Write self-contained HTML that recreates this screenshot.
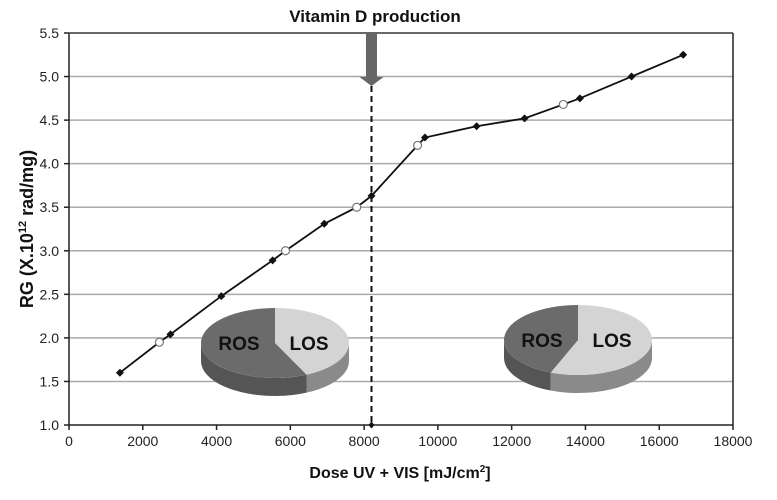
<!DOCTYPE html>
<html><head><meta charset="utf-8"><style>
html,body{margin:0;padding:0;background:#fff;width:777px;height:500px;overflow:hidden}
svg text{font-family:"Liberation Sans",Arial,sans-serif}
</style></head><body>
<svg id="chart" width="777" height="500" xmlns="http://www.w3.org/2000/svg"></svg>
<script>
const xTicks=[0,2000,4000,6000,8000,10000,12000,14000,16000,18000];
const yTicks=[1.0,1.5,2.0,2.5,3.0,3.5,4.0,4.5,5.0,5.5];
const doseValues=[1380,2450,2750,4130,5520,5870,6920,7800,8200,9450,9650,11050,12350,13400,13850,15250,16650];
const rgValues=[1.6,1.95,2.04,2.48,2.89,3.0,3.31,3.5,3.63,4.21,4.3,4.43,4.52,4.68,4.75,5.0,5.25];
const openMarker=[0,1,0,0,0,1,0,1,0,1,0,0,0,1,0,0,0];
const vitaminDDose=[8200];
const losShareLeft=[0.43];
const losShareRight=[0.56];

const NS="http://www.w3.org/2000/svg";
const svg=document.getElementById('chart');
const X0=69,X1=733,Y0=425,Y1=33;
const xs=v=>X0+(v-0)/(18000-0)*(X1-X0);
const ys=v=>Y0-(v-1.0)/(5.5-1.0)*(Y0-Y1);
function el(tag,attrs,name,inter){const e=document.createElementNS(NS,tag);for(const k in attrs)e.setAttribute(k,attrs[k]);


svg.appendChild(e);return e;}

yTicks.forEach(t=>{if(t>1.0){
el('line',{x1:X0,x2:X1,y1:ys(t),y2:ys(t),stroke:'#aaa','stroke-width':1.5},'gridline',false);
}});
el('line',{x1:X0,x2:X0,y1:Y1,y2:Y0,stroke:'#222','stroke-width':1.5},'y-axis',false);
el('line',{x1:X0,x2:X1,y1:Y0,y2:Y0,stroke:'#222','stroke-width':1.5},'x-axis',false);
el('line',{x1:X1,x2:X1,y1:Y1,y2:Y0,stroke:'#222','stroke-width':1.5},'plot-border-right',false);
el('line',{x1:X0,x2:X1,y1:Y1,y2:Y1,stroke:'#444','stroke-width':1.5},'plot-border-top',false);
yTicks.forEach(t=>{
el('line',{x1:X0-5,x2:X0,y1:ys(t),y2:ys(t),stroke:'#222','stroke-width':1.5},'y-tick',false);
const tx=el('text',{x:X0-10,y:ys(t)+5,'text-anchor':'end','font-size':14,fill:'#222'},'y-tick-label',false);tx.textContent=t.toFixed(1);
});
xTicks.forEach(t=>{
el('line',{x1:xs(t),x2:xs(t),y1:Y0,y2:Y0+5,stroke:'#222','stroke-width':1.5},'x-tick',false);
const tx=el('text',{x:xs(t),y:Y0+21,'text-anchor':'middle','font-size':14,fill:'#222'},'x-tick-label',false);tx.textContent=t;
});
let t=el('text',{x:375,y:22,'text-anchor':'middle','font-size':17,'font-weight':'bold',fill:'#111'},'vitamin-d-title',false);t.textContent='Vitamin D production';
t=el('text',{x:400,y:478,'text-anchor':'middle','font-size':16,'font-weight':'bold',fill:'#111'},'x-axis-title',false);
t.innerHTML='Dose UV + VIS [mJ/cm<tspan font-size="10" dy="-6">2</tspan><tspan dy="6">]</tspan>';
t=el('text',{x:0,y:0,'text-anchor':'middle','font-size':18,'font-weight':'bold',fill:'#111',transform:'translate(33,229) rotate(-90)'},'y-axis-title',false);
t.innerHTML='RG (X.10<tspan font-size="11" dy="-7">12</tspan><tspan dy="7"> rad/mg)</tspan>';

const vx=xs(vitaminDDose[0]);
el('line',{x1:vx,x2:vx,y1:86,y2:Y0,stroke:'#111','stroke-width':2,'stroke-dasharray':'6,4'},'vitamin-d-dashed-line',false);
el('polygon',{points:`${vx-5.5},${Y1} ${vx+5.5},${Y1} ${vx+5.5},77 ${vx+12},77 ${vx},86 ${vx-12},77 ${vx-5.5},77`,fill:'#666'},'vitamin-d-arrow',false);

function pie(cx,cy,rx,ry,d,los,name){
 const a0=-Math.PI/2,a1=a0+los*2*Math.PI;
 const px=a=>cx+rx*Math.cos(a),py=a=>cy+ry*Math.sin(a);
 el('path',{d:`M${cx-rx},${cy} A${rx},${ry} 0 0 0 ${px(a1)},${py(a1)} L${px(a1)},${py(a1)+d} A${rx},${ry} 0 0 1 ${cx-rx},${cy+d} Z`,fill:'#555'},name+'-ros-side',false);
 el('path',{d:`M${px(a1)},${py(a1)} A${rx},${ry} 0 0 0 ${cx+rx},${cy} L${cx+rx},${cy+d} A${rx},${ry} 0 0 1 ${px(a1)},${py(a1)+d} Z`,fill:'#8a8a8a'},name+'-los-side',false);
 el('path',{d:`M${cx},${cy} L${px(a0)},${py(a0)} A${rx},${ry} 0 ${los>0.5?1:0} 1 ${px(a1)},${py(a1)} Z`,fill:'#d4d4d4'},name+'-los-slice',false);
 el('path',{d:`M${cx},${cy} L${px(a1)},${py(a1)} A${rx},${ry} 0 ${los>0.5?0:1} 1 ${px(a0)},${py(a0)} Z`,fill:'#6b6b6b'},name+'-ros-slice',false);
 let r=el('text',{x:cx-36,y:cy+7,'text-anchor':'middle','font-size':19,'font-weight':'bold',fill:'#111'},name+'-ros-label',false);r.textContent='ROS';
 r=el('text',{x:cx+34,y:cy+7,'text-anchor':'middle','font-size':19,'font-weight':'bold',fill:'#111'},name+'-los-label',false);r.textContent='LOS';
}
pie(275,343,74,35,18,losShareLeft[0],'pie-left');
pie(578,340,74,35,18,losShareRight[0],'pie-right');

const pts=doseValues.map((d,i)=>xs(d)+','+ys(rgValues[i])).join(' ');
el('polyline',{points:pts,fill:'none',stroke:'#111','stroke-width':1.8},'rg-line',false);
doseValues.forEach((d,i)=>{
 const x=xs(d),y=ys(rgValues[i]);
 if(openMarker[i]) el('circle',{cx:x,cy:y,r:4,fill:'#fff',stroke:'#777','stroke-width':1.2},'open-point',false);
 else el('polygon',{points:`${x},${y-4} ${x+4},${y} ${x},${y+4} ${x-4},${y}`,fill:'#111'},'data-point',false);
});
el('polygon',{points:`${vx},${Y0-3.5} ${vx+3},${Y0} ${vx},${Y0+3.5} ${vx-3},${Y0}`,fill:'#111'},'vitamin-d-base-marker',false);
</script>
</body></html>
